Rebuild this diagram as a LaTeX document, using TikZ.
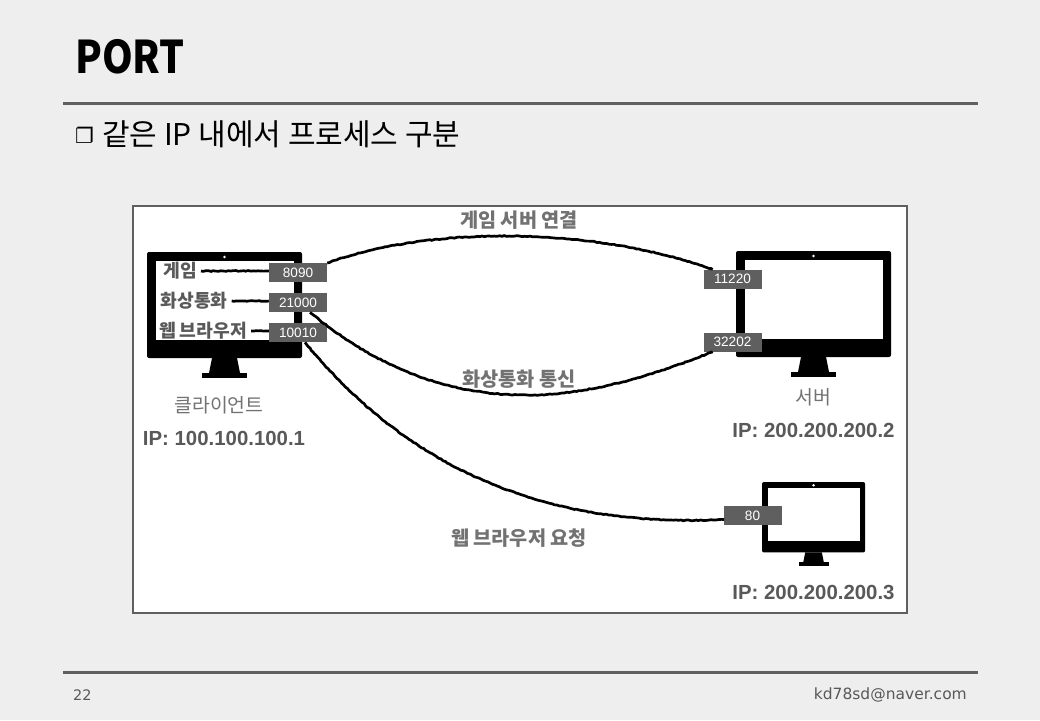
\documentclass[tikz,border=0pt]{standalone}
\usepackage{fontspec}
\setmainfont{Noto Sans CJK KR}
\newfontfamily\latinfont{Liberation Sans}
\newfontfamily\footfont{DejaVu Sans}
\usetikzlibrary{decorations.pathmorphing}
\definecolor{pagebg}{HTML}{EEEEEE}
\definecolor{rulegray}{HTML}{5F5F5F}
\definecolor{labelgray}{HTML}{595959}
\tikzset{
  header rule/.style={line width=3pt, rulegray},
  port box/.style={fill=rulegray, text=white, minimum width=58pt, minimum height=19pt, inner sep=0pt, font=\latinfont\fontsize{13.6}{14}\selectfont},
  app label/.style={text=labelgray, inner sep=4pt, font=\fontsize{18.2}{18}\selectfont\bfseries},
  link label/.style={text=labelgray!85, inner sep=0pt, font=\fontsize{19.7}{20}\selectfont\bfseries},
  host label/.style={text=labelgray!85, inner sep=0pt, font=\fontsize{19.4}{20}\selectfont},
  ip label/.style={text=labelgray, inner sep=0pt, font=\latinfont\fontsize{20.4}{21}\selectfont\bfseries},
  rough line/.style={line width=2.7pt, black, decorate, decoration={random steps, segment length=2.5pt, amplitude=0.45pt}},
}
\newcommand{\drawMonitor}[3]{
  \begin{scope}[shift={(#1,#2)}, x=#3pt, y=-#3pt]
    \fill[black, rounded corners=2pt] (0,0) rectangle (155,106);
    \fill[white] (8.5,9) rectangle (147,88);
    \fill[white] (77.5,5) circle (1.4pt);
    \fill[black] (65,106) -- (90,106) -- (93,121) -- (62,121) -- cycle;
    \fill[black] (55,121) rectangle (100,126);
  \end{scope}
}

\begin{document}
\begin{tikzpicture}[x=1pt, y=-1pt]
  \useasboundingbox (0,0) rectangle (1040,720);
  \fill[pagebg] (0,0) rectangle (1040,720);
  \node[anchor=base west, inner sep=0pt, xscale=0.87, font=\fontsize{45}{45}\selectfont\bfseries] (title) at (75,73) {PORT};
  \draw[header rule] (63,103) -- (978,103);
  \node[anchor=base west, inner sep=0pt, font=\footfont\fontsize{21}{21}\selectfont\bfseries] (bullet) at (75,143) {❐};
  \node[anchor=base west, inner sep=0pt, font=\fontsize{30}{30}\selectfont] (subtitle) at (102,145) {같은 IP 내에서 프로세스 구분};
  \draw[rulegray, line width=2pt, fill=white] (133,206) rectangle (907,613);

  \drawMonitor{147}{252}{1}
  \drawMonitor{736}{251}{1}
  \drawMonitor{762}{482}{0.665}

  \node[port box] (port8090) at (298,272.7) {8090};
  \node[port box] (port21000) at (298,302.7) {21000};
  \node[port box] (port10010) at (298,332.7) {10010};
  \node[port box] (port11220) at (732.5,279) {11220};
  \node[port box] (port32202) at (732.5,342) {32202};
  \node[port box] (port80) at (752.5,515.5) {80};

  \node[app label] (game) at (180,271) {게임};
  \node[app label] (video) at (194,301) {화상통화};
  \node[app label] (browser) at (203,331) {웹 브라우저};

  \coordinate (videomid) at (527,395);

  \draw[rough line] (game.east) -- (game.east -| port8090.west);
  \draw[rough line] (video.east) -- (video.east -| port21000.west);
  \draw[rough line] (browser.east) -- (browser.east -| port10010.west);
  \draw[rough line] (port8090.north east) .. controls (430,226) and (590,226) .. ([xshift=9pt]port11220.north west);
  \draw[rough line] ([xshift=12pt]port21000.south) .. controls (380,370) and (450,395) .. (videomid) .. controls (590,395) and (655,375) .. ([xshift=-20pt]port32202.south);
  \draw[rough line] ([xshift=7pt]port10010.south) .. controls (385,440) and (510,530) .. ([yshift=-4pt]port80.west);

  \node[link label] (gamelink) at (519,220) {게임 서버 연결};
  \node[link label] (videolink) at (519,379) {화상통화 통신};
  \node[link label] (weblink) at (519,538) {웹 브라우저 요청};
  \node[host label] (client) at (219,405) {클라이언트};
  \node[host label] (server) at (813,397) {서버};
  \node[ip label] (clientip) at (224,438) {IP: 100.100.100.1};
  \node[ip label] (serverip) at (813.5,430) {IP: 200.200.200.2};
  \node[ip label] (hostip) at (813.5,592) {IP: 200.200.200.3};

  \draw[header rule] (63,672) -- (978,672);
  \node[anchor=base west, inner sep=0pt, text=labelgray, font=\footfont\fontsize{14.5}{15}\selectfont] (pagenum) at (73,700) {22};
  \node[anchor=base east, inner sep=0pt, text=labelgray, font=\footfont\fontsize{15.5}{16}\selectfont] (mail) at (967,699) {kd78sd@naver.com};
\end{tikzpicture}
\end{document}
